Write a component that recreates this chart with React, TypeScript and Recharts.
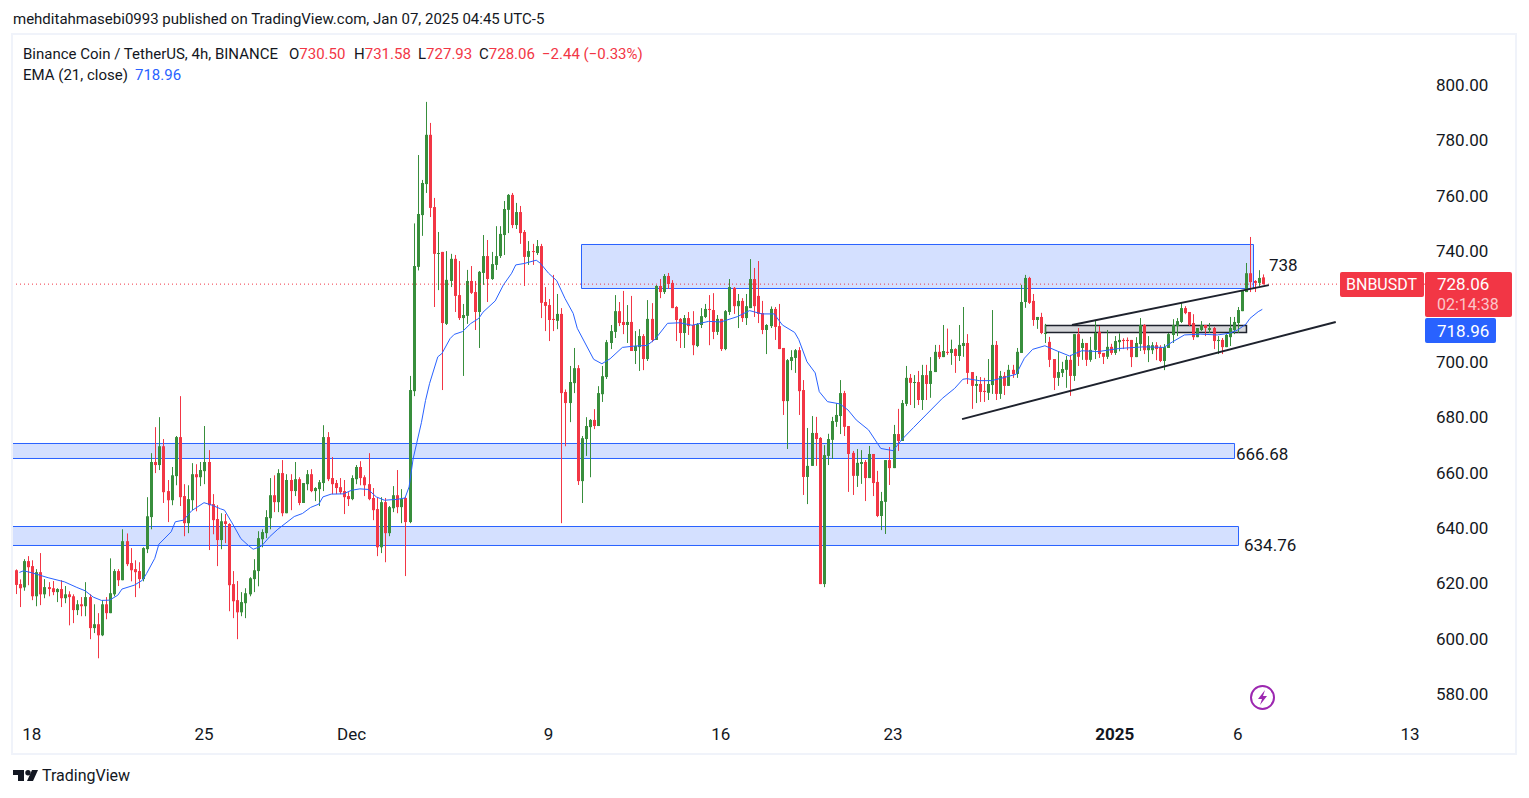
import { Bar, ComposedChart, Line, ReferenceArea, ReferenceLine, XAxis, YAxis } from 'recharts'

const opens = [
  624.7, 619.7, 618.5, 628, 626.2, 615.3, 624, 616, 618.6, 618.2,
  616.8, 617.9, 614.6, 616, 615.3, 610.3, 612.4, 611.7, 615, 603.8,
  605.2, 601.2, 612.4, 609.2, 616, 624.4, 621.1, 635.2, 627.3, 625.1,
  624.4, 621.5, 632.3, 643.9, 663.8, 662.7, 669.5, 653.3, 650, 658.7,
  672.8, 651.5, 641.7, 650, 659.4, 658.3, 660.5, 663.8, 648.6, 643.2,
  635.6, 642.4, 641.4, 619.7, 613.9, 609.5, 612.8, 616, 621.5, 624.4,
  635.9, 638.1, 643.5, 651.8, 649.3, 659.8, 645.3, 657.3, 653.3, 657.6,
  649, 655.8, 659.4, 653.3, 654, 656.2, 672.8, 658, 656.2, 654.7,
  653.3, 651.5, 650.4, 657.6, 662, 658.3, 655.8, 650.8, 646.8, 633,
  649.3, 638.1, 647.1, 651.8, 647.5, 650.8, 642.1, 689.4, 734.3, 753,
  764.2, 782, 755.9, 739, 739.7, 713.7, 729.2, 737.2, 724.1, 715.8,
  716.6, 729.2, 725.2, 718, 732.1, 738.2, 729.9, 735, 738.2, 745.8,
  754.9, 760.3, 749.4, 754.1, 746.9, 737.9, 740, 739.3, 741.8, 721.6,
  720.5, 715.5, 714.8, 717.3, 689.1, 685.1, 692.3, 697.7, 656.9, 672.1,
  676.4, 679, 676.8, 688.3, 694.5, 706.8, 710.8, 718.3, 714.4, 713.3,
  714.4, 703.9, 705.3, 709.3, 701, 715.5, 707.9, 727.4, 725.2, 731,
  728.5, 719.8, 715.5, 710.4, 715.8, 713.3, 705.7, 713.3, 716.2, 719.1,
  718.7, 710.8, 715.5, 704.6, 718, 726.7, 720.1, 722, 715.8, 719.4,
  729.9, 723.8, 717.6, 711.5, 712.9, 719.1, 712.9, 705, 685.8, 700.3,
  701.4, 704.2, 689.8, 658.4, 662.4, 674.3, 672.5, 619.7, 666, 671.8,
  678.3, 680.4, 688.7, 676.8, 667.1, 658.8, 663.1, 663.8, 658, 666.7,
  656.6, 644.3, 649.4, 664.5, 661.6, 673.9, 671.4, 684.8, 694.2, 692.4,
  692.7, 686.2, 695.2, 692, 696.3, 703.6, 701.7, 703.6, 703.2, 704.6,
  702.1, 705.7, 706.8, 696.3, 691.3, 692, 689.5, 688.8, 691.6, 706.1,
  688.4, 694.9, 691.3, 697.1, 695.6, 703.2, 721.6, 730.3, 722, 715.1,
  716.2, 710.4, 707.2, 701, 694.2, 696, 697.1, 700.7, 694.9, 710,
  705, 706.8, 700.7, 704.3, 710.8, 703.2, 701.8, 705.4, 703.2, 707.1,
  707.9, 707.9, 707.9, 701.7, 706.4, 713.3, 704.2, 704.2, 706, 705.3,
  700.3, 705, 709.7, 712.9, 714.4, 719.4, 718, 714, 708.9, 711.5,
  713.3, 711.5, 712.2, 707.5, 707.9, 705.3, 708.9, 711.5, 714, 718.3,
  725.2, 732, 729.2, 728.5, 730.5,
]
const highs = [
  625, 621.4, 628.7, 629.8, 628.3, 625.1, 630.9, 621.5, 620.4, 620.8,
  618.2, 621.1, 619, 617.1, 616, 613.9, 615, 620.4, 616, 612.4,
  609.2, 613.9, 615, 629, 625.1, 625.1, 639.5, 638, 632.7, 628.3,
  627.6, 633, 651.1, 667, 676.4, 680, 672.1, 657.3, 662, 673.2,
  687.6, 655.8, 655.4, 663.4, 663, 663.8, 676.8, 668.1, 652.2, 648.2,
  645.3, 645, 641.7, 624.4, 620.8, 616.8, 618.2, 622.2, 628.7, 638.8,
  639.5, 646.4, 658, 659, 661.2, 664.5, 659.4, 659.4, 663.8, 658.3,
  656.2, 660.9, 661.2, 654.7, 657.3, 677.1, 674.6, 665.6, 657.3, 658,
  657.3, 652.9, 659, 662.7, 664.1, 659, 667, 654.4, 651, 651.1,
  650.8, 647.9, 655.1, 660.9, 654, 651.1, 694.9, 750, 774.7, 765.7,
  793.9, 786.3, 759.2, 746.9, 739.7, 740, 739, 738.6, 736.4, 720.9,
  733.2, 734.6, 729.2, 732.8, 745.8, 744, 739.7, 749, 749, 758.1,
  760.6, 761, 757.4, 756.3, 747.6, 743.6, 742.6, 744, 742.6, 727,
  722.7, 731.4, 724.5, 719.4, 690, 698.5, 705, 698.8, 673.2, 680,
  679.3, 682.9, 691.2, 698.5, 707.9, 713.3, 724.1, 721.6, 725.6, 720.5,
  723.8, 711.1, 711.8, 710, 722.3, 721.2, 727.7, 729.9, 731.7, 732.1,
  729.5, 720.1, 715.8, 716.9, 718, 718.3, 714, 719.4, 720.9, 724.1,
  724.8, 716.9, 715.5, 718.7, 729.9, 727, 724.5, 723, 724.5, 737.1,
  733.9, 736.4, 722, 713.6, 720, 719.8, 720.9, 705, 701, 704.2,
  704.6, 705.3, 693.4, 676.1, 680.4, 680.1, 672.8, 669.9, 674, 680.1,
  685, 693.4, 689.5, 676.8, 667.8, 668.5, 668.1, 664.5, 669.6, 666.7,
  660.6, 653, 664.5, 669.2, 677.2, 683, 686.2, 698.5, 695.6, 695.2,
  696.7, 698.9, 698.9, 701.7, 706.1, 706.1, 713.3, 712, 708, 704.9,
  713.3, 719.8, 710, 696.3, 694.9, 694.5, 694.2, 701, 718.7, 707.5,
  696.7, 696.3, 698.9, 698.9, 705, 727.8, 731.4, 730.7, 724.5, 716.2,
  717.7, 713.7, 709, 701, 703.6, 700, 702.1, 702.5, 710, 712.2,
  708.3, 706.8, 709, 714.8, 712.9, 703.2, 711.5, 706.5, 709.3, 710.3,
  708.5, 708.8, 707.9, 708.9, 715.8, 713.6, 709.3, 707.1, 707.1, 706,
  706.4, 710.4, 715.4, 715.8, 721.6, 720.1, 718, 717.2, 712.2, 714.7,
  713.3, 714, 712.6, 709.3, 708.6, 710, 716.2, 716.2, 719.8, 725.6,
  735.7, 745.1, 729.5, 733.1, 731.58,
]
const lows = [
  616.1, 611.4, 617.3, 619.3, 613.9, 611.7, 612.1, 614.6, 615.3, 615.7,
  613.2, 611.4, 612.8, 604.8, 605.6, 608.5, 608.1, 608.1, 599.8, 602,
  592.9, 600.9, 607, 609.2, 615.3, 619, 621.1, 626.2, 620.7, 615,
  618.2, 620.7, 630.9, 639.5, 659.8, 660.9, 649, 642.1, 648.2, 655.4,
  647.9, 637, 638.1, 646.4, 646, 655.1, 655.8, 632, 637.7, 626.2,
  632.3, 634.5, 609.9, 607.4, 599.8, 608.1, 607.4, 615.3, 616.8, 618.9,
  633, 636.3, 639.5, 645.7, 645.7, 644.2, 645.3, 646.4, 651.5, 648.2,
  649, 653.6, 652.9, 649.7, 647.9, 653.3, 656.9, 652.2, 652.2, 652.2,
  645, 647.9, 650, 655.8, 655.4, 651.5, 650, 642.8, 629.8, 630.9,
  627.6, 637, 645.7, 645.3, 641.7, 622.6, 641.7, 687.6, 733, 745.5,
  761, 752.3, 719.8, 725.9, 689.8, 713.3, 727, 718, 715.1, 694.9,
  713.7, 724.5, 711.5, 705, 727.8, 721.6, 729.6, 733.2, 737.5, 738.6,
  746.5, 748.3, 748, 742.6, 727.4, 735, 735, 738.6, 715.8, 711.1,
  707.5, 711.1, 711.8, 641.7, 669.5, 678.2, 688.7, 655.5, 649, 666,
  658.3, 675.7, 676.8, 685.5, 693.8, 704.6, 708.6, 712.9, 710, 706.8,
  703.9, 699.2, 696.7, 697, 700.3, 707.1, 707.9, 723, 724.5, 726.3,
  719.4, 707.5, 705, 705, 709.7, 702.4, 705.3, 712.2, 715.8, 706,
  708.2, 709.7, 703.9, 704.2, 716.9, 717.3, 712.2, 714.4, 713.3, 719.4,
  716.2, 714, 710, 702.8, 712.2, 707.9, 704.6, 680.8, 668.5, 697,
  696, 680.8, 651.9, 648.6, 662.4, 662.4, 619.7, 618.6, 662.7, 664.9,
  676.5, 673.9, 673.2, 653, 651.9, 654.8, 655.9, 649.7, 658, 651.5,
  643.9, 639.2, 637.8, 655.5, 661.6, 667.8, 671.4, 684, 684.4, 683.3,
  684.4, 682.6, 686.2, 687, 696.3, 701, 701.7, 702.5, 698.9, 696,
  700.3, 701.8, 692, 683, 685.1, 685.5, 685.5, 686.2, 688.4, 686.2,
  686.6, 688, 691.3, 694.2, 694.2, 703.2, 719.5, 720.9, 713, 711.9,
  710, 706.8, 698.1, 689.8, 691.3, 694.5, 690.6, 687.7, 693.1, 698.5,
  700.7, 698.5, 700, 701, 701.4, 699.2, 701, 702.5, 702.5, 703.8,
  704.6, 704.2, 698.1, 701.7, 703.9, 702.8, 699.9, 702.8, 700.6, 699.9,
  697, 705, 706.8, 709.3, 714, 717.2, 712.9, 707.9, 708.9, 711.1,
  709.3, 710.4, 704.6, 702.8, 702.8, 705.3, 705.7, 710, 710.4, 718.3,
  725.2, 725.2, 725.2, 727.4, 727.93,
]
const closes = [
  619.4, 618.2, 628, 625.8, 615.3, 624, 616, 618.6, 617.9, 616.8,
  617.9, 614.6, 616, 615, 610.3, 612.4, 611.7, 615, 603.8, 605.2,
  601.2, 612.4, 609.2, 616.4, 624.4, 621.1, 635.2, 626.9, 624.7, 624,
  621.5, 632.7, 644.2, 663.8, 662.7, 669.5, 652.9, 650, 659, 672.8,
  651.1, 641.7, 650.4, 659.4, 658.3, 660.9, 663.8, 648.2, 642.8, 635.6,
  642.4, 641.4, 619.3, 613.5, 609.5, 613.2, 616.4, 621.8, 624.7, 636.3,
  638.5, 643.9, 651.8, 649.3, 659.8, 645.3, 657.3, 653.3, 657.6, 649,
  656.2, 659.4, 653.3, 654.4, 656.5, 672.8, 657.6, 655.8, 654.4, 652.9,
  651.1, 650.4, 658, 662, 658, 655.4, 650.4, 646.4, 633, 649.3,
  638.1, 647.5, 651.8, 647.5, 650.4, 642.1, 689.8, 734.6, 753.4, 764.6,
  782, 755.6, 739, 739.3, 714, 729.6, 737.2, 723.8, 715.8, 716.9,
  729.2, 724.9, 718, 732.5, 738.2, 729.9, 735.3, 738.2, 746.2, 755.2,
  760.3, 749.4, 754.1, 746.5, 737.9, 740, 739.7, 741.8, 721.3, 720.2,
  715.1, 715.1, 717.3, 688.7, 685.1, 692.7, 697.7, 656.9, 672.4, 676.8,
  679, 676.8, 688.7, 694.8, 707.1, 711.1, 718.3, 714, 713.3, 714.4,
  703.9, 705.7, 709.3, 701, 715.5, 707.9, 727.4, 725.2, 731, 728.1,
  719.4, 715.1, 710.4, 715.8, 712.9, 706, 713.6, 716.5, 719.1, 718.7,
  710.8, 715.5, 704.6, 718.3, 727, 720.1, 722, 715.8, 720.1, 729.9,
  720.1, 717.3, 711.5, 713.3, 719.1, 712.6, 704.6, 685.8, 700.6, 701.7,
  704.2, 689.4, 658.4, 662.4, 674.3, 672.1, 619.7, 666.3, 672.1, 678.6,
  680.8, 688.7, 676.5, 666.7, 658.8, 663.5, 663.8, 658, 666.7, 656.2,
  644.3, 649.7, 664.5, 661.6, 673.9, 671.4, 685.1, 694.2, 692.4, 692.7,
  686.2, 695.2, 692, 696.7, 703.6, 701.7, 703.9, 703.2, 704.6, 702.1,
  706.1, 706.8, 696, 691.3, 692, 689.1, 689.1, 692, 706.1, 688.4,
  694.9, 691.3, 697.1, 695.6, 703.6, 721.6, 730.3, 721.3, 715.1, 716.2,
  710.4, 710.4, 700.7, 694.2, 696.3, 697.4, 700.7, 694.9, 710, 701.8,
  706.8, 700.7, 704.3, 710.4, 702.8, 701.8, 705.4, 703.2, 707.5, 707.9,
  707.5, 707.5, 701.7, 706.8, 713.3, 704.2, 706, 706, 704.6, 700.3,
  705.3, 710, 713.3, 714.7, 719.4, 717.6, 713.3, 708.9, 712.2, 713.3,
  712.2, 712.2, 707.5, 707.9, 705.3, 709.7, 712.2, 714.4, 718.7, 725.6,
  732, 728.8, 728.5, 730.3, 728.06,
]

// 21 EMA, candle number -> value
const emaBars = [
  2, 3, 5, 9, 13, 16, 18, 20, 22, 24, 26, 27, 30, 32, 33, 35, 36, 39, 40, 42, 44, 47, 49, 51, 52, 54, 56, 58, 59, 61,
  63, 65, 67, 69, 71, 73, 75, 76, 78, 81, 83, 85, 87, 89, 91, 94, 96, 97, 98, 100, 101, 102, 104, 105, 107, 108, 110, 112, 114, 115,
  118, 120, 122, 123, 125, 128, 129, 131, 133, 135, 137, 138, 142, 144, 146, 149, 152, 155, 157, 160, 163, 166, 170, 173, 177, 180, 183, 186, 188, 191,
  192, 194, 196, 197, 199, 202, 204, 206, 209, 212, 215, 217, 220, 223, 227, 230, 232, 233, 236, 239, 242, 245, 247, 249, 252, 255, 258, 261, 265, 270,
  276, 281, 283, 286, 290, 294, 297, 299, 301, 302, 304, 305,
]
const emaValues = [
  623.9, 624.5, 623.8, 622, 620.5, 618.5, 617.3, 615, 613.8, 613.9, 615.7, 617.9, 619.3, 621.1, 623.5, 629, 634.1, 638.6, 642.2, 642.8, 646.2, 649.1, 648.2, 646.9, 646.4, 641.4, 636.1, 633.4, 632.3, 633.4,
  636.8, 639.5, 641.8, 644.1, 645.2, 647.4, 648.6, 651.2, 652.2, 652.3, 653.6, 654.1, 653.9, 651.2, 650, 650.3, 650.8, 654.8, 665.1, 678, 686, 692.2, 701.8, 703, 708.4, 709.9, 710.9, 713.8, 715.7, 717.9,
  722, 727.8, 732, 735, 735.5, 736.7, 735.6, 732, 729.3, 722.9, 717.5, 712.1, 700.9, 699.3, 701.1, 705.2, 705.7, 705.9, 708.2, 713.9, 714.1, 713.2, 714.6, 714.4, 716.3, 718.5, 717.3, 717.3, 713.3, 710.6,
  708, 700, 696, 689.2, 685.6, 684.8, 682.6, 679, 675.4, 668.7, 667.9, 671.7, 676.3, 680.8, 686.8, 690.4, 693.7, 693.9, 693.2, 693.2, 694.3, 695.5, 701.3, 704.5, 705.8, 703.9, 702.1, 704, 703.7, 704.8,
  705.4, 705.2, 707.1, 709.7, 710, 709.7, 710.3, 711.5, 713.6, 715.7, 718.1, 718.96,
]

// 720.00 sits behind the price tag in the reference, so it is left out
const priceTicks = [580, 600, 620, 640, 660, 680, 700, 740, 760, 780, 800]
const timeTicks = [5, 47, 83, 131, 173, 215, 269, 299, 341]
const timeLabels = ['18', '25', 'Dec', '9', '16', '23', '2025', '6', '13']

const font = 'Roboto, sans-serif'
const UP = '#388e3c'
const DOWN = '#f23645'
const BLUE = '#2962ff'
const INK = '#131722'

const rows = opens.map((open, i) => {
  const at = emaBars.indexOf(i + 1)
  return {
    idx: i + 1,
    open,
    close: closes[i],
    high: highs[i],
    low: lows[i],
    range: [lows[i], highs[i]],
    ema: at >= 0 ? emaValues[at] : null,
  }
})

function Candle(props: any) {
  const { x, y, width, height, payload } = props
  const { open, close, high, low } = payload
  const perUnit = height / (high - low || 1)
  const cx = Math.round(x + width / 2)
  const top = y + (high - Math.max(open, close)) * perUnit
  const bodyH = Math.max(1, Math.abs(open - close) * perUnit)
  const fill = close >= open ? UP : DOWN
  return (
    <g>
      <rect x={cx} y={y} width={1} height={Math.max(height, 1)} fill={fill} />
      <rect x={cx - 1} y={top} width={3} height={bodyH} fill={fill} />
    </g>
  )
}

function TimeTick(props: any) {
  const { x, y, payload } = props
  const i = timeTicks.indexOf(payload.value)
  return (
    <text x={x} y={y - 1} textAnchor="middle" dominantBaseline="central" fontFamily={font} fontSize={17}
      fontWeight={timeLabels[i] === '2025' ? 700 : 400} fill={INK}>
      {timeLabels[i]}
    </text>
  )
}

function Txt(props: any) {
  const { x, y, size = 15, color = INK, weight = 400, children } = props
  return (
    <div style={{ position: 'absolute', left: x, top: y, fontFamily: font, fontSize: size, color, fontWeight: weight, lineHeight: '20px', whiteSpace: 'nowrap' }}>
      {children}
    </div>
  )
}

function Box(props: any) {
  const { x, y, w, h, bg } = props
  return <div style={{ position: 'absolute', left: x, top: y, width: w, height: h, background: bg, borderRadius: 2 }} />
}

export default function App() {
  return (
    <div style={{ position: 'absolute', left: 0, top: 0, width: 1529, height: 798, overflow: 'hidden', background: '#fff' }}>
      <ComposedChart width={1529} height={798} data={rows} margin={{ top: 35, right: 13, bottom: 41, left: 13 }}>
        <XAxis type="number" dataKey="idx" domain={[0.44, 344.66]} ticks={timeTicks} allowDataOverflow
          axisLine={false} tickLine={false} height={37} tick={<TimeTick />} tickMargin={9} interval={0} />
        <YAxis orientation="right" type="number" domain={[570.6, 818.06]} ticks={priceTicks} allowDataOverflow width={91}
          axisLine={false} tickLine={false} tickMargin={5} interval={0} tickFormatter={(v: number) => v.toFixed(2)}
          tick={{ fontFamily: font, fontSize: 17, fill: INK, textAnchor: 'start' }} />
        <Bar dataKey="range" barSize={3} shape={<Candle />} isAnimationActive={false} />
        <Line dataKey="ema" stroke={BLUE} strokeWidth={1} dot={false} connectNulls isAnimationActive={false} />
        <ReferenceLine y={728.06} stroke={DOWN} strokeWidth={1} strokeDasharray="1 3" />
        <ReferenceArea x1={139.03} x2={302.85} y1={726.48} y2={742.38} fill={BLUE} fillOpacity={0.2} stroke={BLUE} strokeWidth={1} />
        <ReferenceArea x1={-2} x2={298.23} y1={665.07} y2={670.49} fill={BLUE} fillOpacity={0.2} stroke={BLUE} strokeWidth={1} ifOverflow="hidden" />
        <ReferenceArea x1={-2} x2={299.2} y1={633.64} y2={640.5} fill={BLUE} fillOpacity={0.2} stroke={BLUE} strokeWidth={1} ifOverflow="hidden" />
        <ReferenceArea x1={252.14} x2={301.14} y1={710.59} y2={713.12} fill="#787b86" fillOpacity={0.3} stroke="#1e222d" strokeWidth={1.5} />
        <ReferenceLine segment={[{ x: 231.8, y: 679.3 }, { x: 322.9, y: 714.4 }]} stroke="#1e222d" strokeWidth={2} />
        <ReferenceLine segment={[{ x: 258.6, y: 713.3 }, { x: 306.6, y: 727.7 }]} stroke="#1e222d" strokeWidth={2} />
      </ComposedChart>

      <div style={{ position: 'absolute', left: 11, top: 33, width: 1506, height: 722, border: '2px solid #f0f3fa', boxSizing: 'border-box' }} />

      <Txt x={13} y={9}>mehditahmasebi0993 published on TradingView.com, Jan 07, 2025 04:45 UTC-5</Txt>
      <Txt x={23} y={44}>Binance Coin / TetherUS, 4h, BINANCE</Txt>
      <Txt x={289} y={44}>O<span style={{ color: DOWN }}>730.50</span></Txt>
      <Txt x={354} y={44}>H<span style={{ color: DOWN }}>731.58</span></Txt>
      <Txt x={418} y={44}>L<span style={{ color: DOWN }}>727.93</span></Txt>
      <Txt x={479} y={44}>C<span style={{ color: DOWN }}>728.06</span></Txt>
      <Txt x={542} y={44} color={DOWN}>−2.44 (−0.33%)</Txt>
      <Txt x={23} y={65}>EMA (21, close)</Txt>
      <Txt x={135} y={65} color={BLUE}>718.96</Txt>

      <Txt x={1269} y={255} size={17}>738</Txt>
      <Txt x={1236} y={444} size={17}>666.68</Txt>
      <Txt x={1244} y={535} size={17}>634.76</Txt>

      <Box x={1340} y={272} w={84} h={25} bg={DOWN} />
      <Txt x={1346} y={275} size={16} color="#fff">BNBUSDT</Txt>
      <Box x={1425} y={272} w={87} h={45} bg={DOWN} />
      <Txt x={1437} y={274} size={17} color="#fff">728.06</Txt>
      <Txt x={1437} y={295} size={16} color="#fbc6cb">02:14:38</Txt>
      <Box x={1425} y={318} w={71} h={25} bg={BLUE} />
      <Txt x={1437} y={321} size={17} color="#fff">718.96</Txt>

      <svg style={{ position: 'absolute', left: 0, top: 0, pointerEvents: 'none' }} width={1529} height={798}>
        <circle cx={1262.5} cy={697.5} r={11.5} fill="none" stroke="#9c27b0" strokeWidth={2} />
        <path d="M1265 690 L1258 699 H1262 L1260 705 L1267 696 H1263 Z" fill="#9c27b0" />
        <path d="M13 770 H24 V781 H18 V775 H13 Z" fill="#131722" />
        <circle cx={28} cy={772.7} r={2.7} fill="#131722" />
        <path d="M32 770 H38 L33 781 H27 Z" fill="#131722" />
      </svg>
      <Txt x={42} y={766} size={16}>TradingView</Txt>
    </div>
  )
}
